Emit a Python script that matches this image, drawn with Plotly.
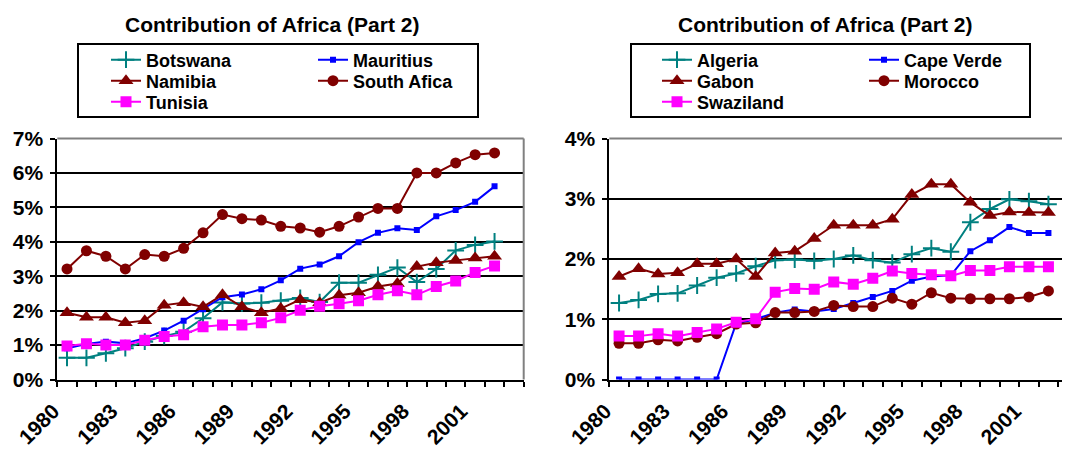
import plotly.graph_objects as go

################# DATA #################

# One category per year on the x axis; the last category (2003) has no value
years = list(range(1980, 2003))
first_year = 1980
n_categories = 24
label_years = [1980, 1983, 1986, 1989, 1992, 1995, 1998, 2001]

# Left panel: contribution in percent
left_names = ["Botswana", "Mauritius", "Namibia", "South Afica", "Tunisia"]
botswana = [0.63, 0.63, 0.76, 0.91, 1.10, 1.26, 1.39, 1.78, 2.24, 2.21, 2.23, 2.29,
            2.37, 2.25, 2.81, 2.81, 3.04, 3.25, 2.83, 3.21, 3.75, 3.91, 4.01]
mauritius = [0.91, 1.03, 1.10, 1.05, 1.20, 1.42, 1.71, 2.04, 2.39, 2.47, 2.62, 2.88,
             3.22, 3.34, 3.58, 3.99, 4.26, 4.39, 4.34, 4.74, 4.92, 5.16, 5.61]
namibia = [1.94, 1.81, 1.81, 1.65, 1.71, 2.16, 2.23, 2.11, 2.46, 2.11, 1.94, 2.06,
           2.32, 2.23, 2.45, 2.52, 2.70, 2.79, 3.28, 3.39, 3.46, 3.53, 3.58]
south_afica = [3.21, 3.74, 3.58, 3.21, 3.63, 3.58, 3.81, 4.26, 4.79, 4.67, 4.63, 4.45,
               4.40, 4.28, 4.45, 4.72, 4.97, 4.97, 6.00, 6.00, 6.29, 6.53, 6.58]
tunisia = [0.97, 1.04, 1.00, 1.00, 1.14, 1.25, 1.30, 1.53, 1.58, 1.58, 1.65, 1.79,
           2.01, 2.13, 2.20, 2.29, 2.46, 2.58, 2.46, 2.70, 2.86, 3.11, 3.30]

# Right panel: contribution in percent
right_names = ["Algeria", "Cape Verde", "Gabon", "Morocco", "Swaziland"]
algeria = [1.27, 1.32, 1.42, 1.43, 1.56, 1.69, 1.76, 1.88, 1.98, 1.99, 1.97, 2.00,
           2.06, 1.98, 1.94, 2.08, 2.18, 2.12, 2.61, 2.83, 2.99, 2.96, 2.91]
cape_verde = [0, 0, 0, 0, 0, 0, 0.93, 1.00, 1.11, 1.16, 1.13, 1.17,
              1.27, 1.37, 1.47, 1.64, 1.71, 1.73, 2.13, 2.31, 2.53, 2.43, 2.43]
gabon = [1.71, 1.84, 1.75, 1.77, 1.92, 1.92, 2.00, 1.71, 2.10, 2.13, 2.34, 2.56,
         2.56, 2.56, 2.66, 3.07, 3.24, 3.24, 2.94, 2.72, 2.78, 2.77, 2.77]
morocco = [0.60, 0.60, 0.66, 0.64, 0.70, 0.76, 0.92, 0.94, 1.11, 1.11, 1.13, 1.23,
           1.21, 1.21, 1.35, 1.25, 1.44, 1.35, 1.34, 1.34, 1.34, 1.37, 1.47]
swaziland = [0.72, 0.72, 0.76, 0.72, 0.78, 0.84, 0.95, 1.01, 1.45, 1.51, 1.50, 1.62,
             1.58, 1.68, 1.80, 1.76, 1.74, 1.72, 1.81, 1.81, 1.87, 1.87, 1.87]

title_text = "Contribution of Africa (Part 2)"

################# STYLE #################

W, H = 1070, 449
PAGE_OFFSET = 8  # default body margin of the html page
FONT = "Liberation Sans, Arial, sans-serif"

# marker/line style for the five series slots (same in both panels)
slot_styles = [
    dict(color="#008080", symbol="cross-thin", size=12),
    dict(color="#0000FF", symbol="square", size=6),
    dict(color="#800000", symbol="triangle-up", size=13),
    dict(color="#800000", symbol="circle", size=11),
    dict(color="#FF00FF", symbol="square", size=11),
]

# legend rows: slots per row, and screen y of the row centre
legend_rows = [[0, 1], [2, 3], [4]]
legend_row_y = [60, 81, 102]


def px_x(x):
    """Screen pixel x -> paper fraction."""
    return (x - PAGE_OFFSET) / W


def px_y(y):
    """Screen pixel y -> paper fraction."""
    return 1 - (y - PAGE_OFFSET) / H


def legend_name(n):
    return "legend" if n == 1 else "legend%d" % n


def add_panel(fig, names, series, axis_suffix, legend_base, legend_x):
    """Add the five line series of one panel, each linked to its legend row."""
    for slot, (name, values) in enumerate(zip(names, series)):
        st = slot_styles[slot]
        row = [i for i, r in enumerate(legend_rows) if slot in r][0]
        fig.add_trace(go.Scatter(
            x=years, y=values, name=name,
            mode="lines+markers",
            line=dict(color=st["color"], width=2),
            marker=dict(symbol=st["symbol"], size=st["size"], color=st["color"],
                        line=dict(color=st["color"], width=2 if st["symbol"] == "cross-thin" else 0)),
            xaxis="x" + axis_suffix, yaxis="y" + axis_suffix,
            legend=legend_name(legend_base + row),
            # first column is wide enough to set the column gap, second stays narrow
            legendwidth=162 if slot % 2 == 0 else 120,
        ))

    # one horizontal legend per row so the row spacing can be kept tight
    for row in range(len(legend_rows)):
        fig.update_layout({legend_name(legend_base + row): dict(
            orientation="h",
            x=px_x(legend_x), xanchor="left",
            y=px_y(legend_row_y[row]), yanchor="middle",
            font=dict(family=FONT, size=18, color="black", weight="bold"),
            bgcolor="rgba(0,0,0,0)", borderwidth=0,
            traceorder="normal",
        )})


fig = go.Figure()
add_panel(fig, left_names, [botswana, mauritius, namibia, south_afica, tunisia], "", 1, 106)
add_panel(fig, right_names, [algeria, cape_verde, gabon, morocco, swaziland], "2", 4, 657)

################# AXES #################

# category boundaries carry the ticks, every third one carries a year label
boundaries = [first_year - 0.5 + k for k in range(n_categories + 1)]
tick_text = [str(int(b + 0.5)) if int(b + 0.5) in label_years else "" for b in boundaries]
x_range = [first_year - 0.5, first_year - 0.5 + n_categories]

xaxis_common = dict(
    tickmode="array", tickvals=boundaries, ticktext=tick_text,
    ticks="outside", ticklen=5, tickwidth=1.5, tickcolor="black",
    tickangle=-45, tickfont=dict(family=FONT, size=21, color="black", weight="bold"),
    ticklabelstandoff=4, ticklabelshift=-4,
    showgrid=False, zeroline=False, automargin=False,
    showline=True, linecolor="black", linewidth=2, range=x_range,
)
yaxis_common = dict(
    ticks="outside", ticklen=5, tickwidth=1.5, tickcolor="black",
    ticksuffix="%", dtick=1, automargin=False, ticklabelstandoff=3,
    tickfont=dict(family=FONT, size=21, color="black", weight="bold"),
    showgrid=True, gridcolor="black", gridwidth=1.5,
    zeroline=False, showline=True, linecolor="black", linewidth=2,
)

# plot areas in screen pixels (the right one runs past the window edge)
left_px = (57.3, 523.7)
right_px = (609.3, 1077.7)
plot_y = (379.5, 138.5)

fig.update_layout(
    xaxis=dict(xaxis_common, domain=[px_x(left_px[0]), px_x(left_px[1])], anchor="y"),
    yaxis=dict(yaxis_common, domain=[px_y(plot_y[0]), px_y(plot_y[1])], range=[0, 7], anchor="x"),
    xaxis2=dict(xaxis_common, domain=[px_x(right_px[0]), min(1, px_x(right_px[1]))], anchor="y2"),
    yaxis2=dict(yaxis_common, domain=[px_y(plot_y[0]), px_y(plot_y[1])], range=[0, 4], anchor="x2"),
)

################# FRAMES, TITLES #################

# gray plot-area border on top and right
for xr, yr in [("x domain", "y domain"), ("x2 domain", "y2 domain")]:
    fig.add_shape(type="line", xref=xr, yref=yr, x0=0, x1=1, y0=1, y1=1,
                  line=dict(color="#808080", width=2), layer="above")
    fig.add_shape(type="line", xref=xr, yref=yr, x0=1, x1=1, y0=0, y1=1,
                  line=dict(color="#808080", width=2), layer="above")

# legend boxes
for x0, x1 in [(78, 478), (631, 1030)]:
    fig.add_shape(type="rect", xref="paper", yref="paper",
                  x0=px_x(x0), x1=px_x(x1), y0=px_y(117), y1=px_y(44),
                  line=dict(color="black", width=2))

for cx in [272, 825]:
    fig.add_annotation(text=title_text, xref="paper", yref="paper",
                       x=px_x(cx), y=px_y(24), xanchor="center", yanchor="middle",
                       showarrow=False,
                       font=dict(family=FONT, size=21, color="black", weight="bold"))

fig.update_layout(
    width=W, height=H,
    margin=dict(l=0, r=0, t=0, b=0, autoexpand=False),
    plot_bgcolor="white", paper_bgcolor="white",
)

fig.write_html("out.html")
